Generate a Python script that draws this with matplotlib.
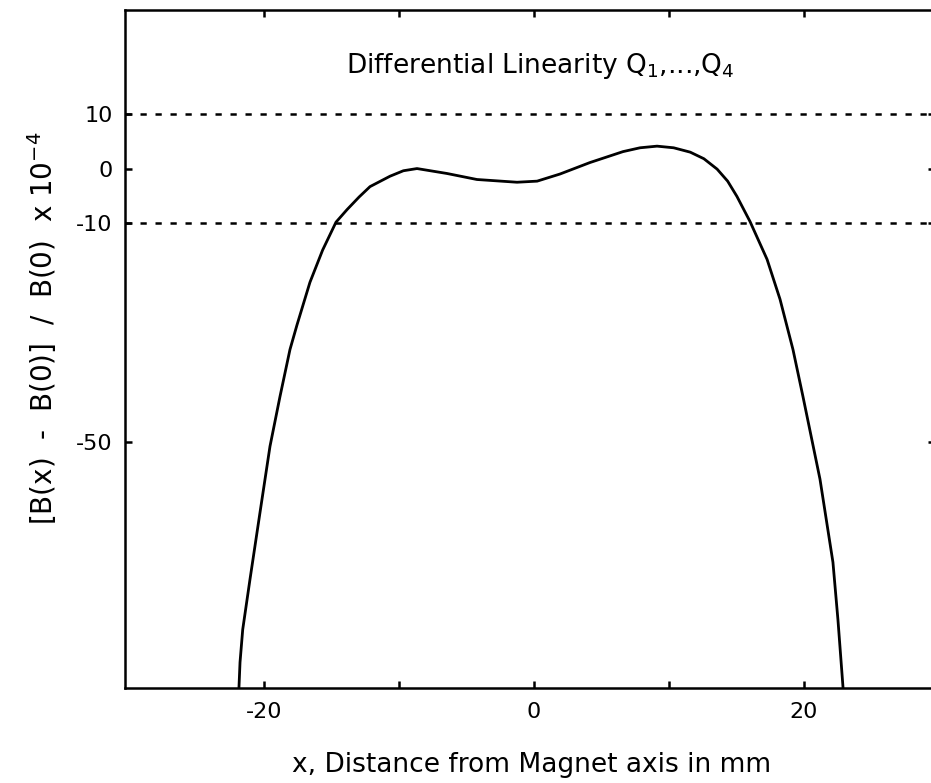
import numpy as np
import matplotlib.pyplot as plt

# curve (x in mm, y in units of 1e-4)
x_mm = [-21.86, -21.78, -21.58, -21.04, -20.30, -19.56, -18.82, -18.08, -17.56,
        -16.60, -15.66, -14.67, -13.85, -12.96, -12.15, -10.67, -9.68, -8.67,
        -6.45, -4.23, -1.26, 0.23, 1.92, 4.14, 6.59, 7.85, 9.11, 10.34, 11.57,
        12.58, 13.56, 14.34, 15.03, 16.00, 17.26, 18.22, 19.18, 19.92, 21.18,
        22.14, 22.51, 22.89]
lin = [-95.0, -90.3, -84.3, -75.1, -62.9, -50.8, -41.7, -33.1, -28.6,
       -20.8, -14.9, -9.8, -7.5, -5.2, -3.3, -1.4, -0.4, 0.0,
       -0.9, -2.0, -2.5, -2.3, -1.0, 1.1, 3.1, 3.8, 4.1, 3.8, 3.0,
       1.8, -0.1, -2.3, -5.1, -9.7, -16.6, -23.9, -33.1, -41.7, -56.8,
       -72.0, -82.5, -95.0]

tol_lines = [10, -10]
xticks = [-20, -10, 0, 10, 20]
xticklabels = ['-20', '', '0', '', '20']
yticks = [10, 0, -10, -50]
yticklabels = ['10', '0', '-10', '-50']

plt.rcParams['font.family'] = ['DejaVu Sans']

fig = plt.figure(figsize=(9.31, 7.83), dpi=100)
ax = fig.add_axes([125/931, 1-688/783, (935-125)/931, (688-10)/783])

ax.plot(x_mm, lin, color='black', lw=2.0, solid_joinstyle='round')
for y in tol_lines:
    ax.axhline(y, color='black', lw=1.8, ls=(0, (2.5, 3.5)))

ax.set_xlim(-30.3, 29.7)
ax.set_ylim(-95, 29)

ax.set_xticks(xticks)
ax.set_xticklabels(xticklabels)
ax.set_yticks(yticks)
ax.set_yticklabels(yticklabels)
ax.tick_params(direction='in', length=5, width=1.8, labelsize=16,
               top=True, right=True)
ax.tick_params(axis='x', pad=10)
ax.tick_params(axis='y', pad=9)
for s in ax.spines.values():
    s.set_linewidth(1.8)

fig.text(540/931, 1-66/783, r'Differential Linearity Q$_1$,...,Q$_4$',
         fontsize=19, ha='center', va='center')
fig.text(532/931, 1-765/783, 'x, Distance from Magnet axis in mm',
         fontsize=19, ha='center', va='center')
fig.text(42/931, 1-328/783, r'[B(x)  -  B(0)]  /  B(0)  x 10$^{-4}$',
         fontsize=20, ha='center', va='center', rotation=90)

fig.savefig('out.png', dpi=100)
